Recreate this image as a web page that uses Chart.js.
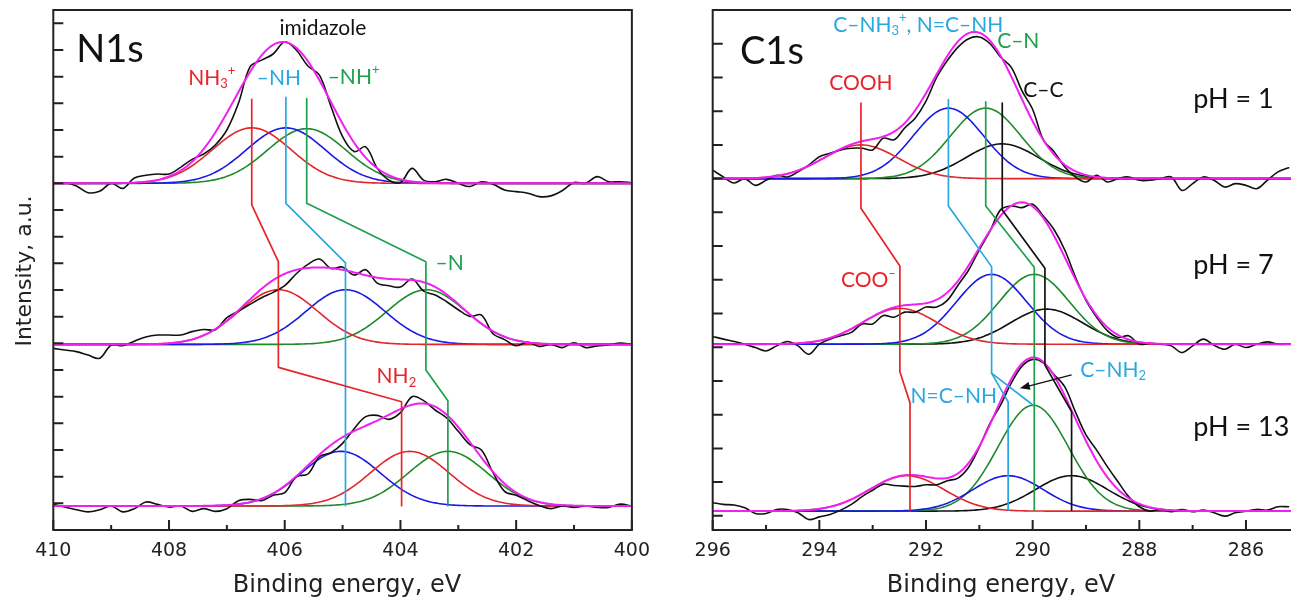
<!DOCTYPE html>
<html><head><meta charset="utf-8">
<script src="https://cdn.jsdelivr.net/npm/chart.js@4/dist/chart.umd.min.js"></script>
<style>
html,body{margin:0;padding:0;background:#fff;overflow:hidden;width:1291px;height:602px;position:relative;}
canvas{position:absolute;top:0;}
#c1{left:0;}
#c2{left:660px;}
</style></head><body>
<canvas id="c1" width="660" height="602"></canvas>
<canvas id="c2" width="660" height="602"></canvas>
<script>
// ---------------- DATA ----------------
// N1s: binding energy grid (eV) and measured intensity above each spectrum's baseline
const n1sEnergy = Array.from({length:51},(_,i)=>+(410 - i*0.2).toFixed(1));
const n1sPH1  = [0.0,0.02,-0.1,-0.35,-0.3,0.0,-0.19,0.2,0.3,0.35,0.35,0.6,0.9,1.1,1.44,2.0,3.0,4.37,4.62,4.85,5.31,5.0,4.4,4.06,2.88,1.75,1.19,1.37,0.56,0.12,0.03,0.56,0.12,0.06,0.15,0.0,-0.12,0.06,-0.03,-0.25,-0.31,-0.37,-0.5,-0.47,-0.27,0.03,0.0,0.25,0.06,0.06,0.02];
const n1sPH7  = [-0.15,-0.21,-0.27,-0.4,-0.52,-0.03,-0.05,0.12,0.28,0.35,0.35,0.35,0.48,0.56,0.55,1.0,1.25,1.5,1.75,1.95,2.2,2.65,3.0,3.2,2.85,2.9,2.6,2.8,2.3,2.2,2.15,2.45,2.0,1.85,1.6,1.3,1.05,1.1,0.4,0.18,-0.05,0.08,-0.08,0.0,-0.12,0.06,-0.12,-0.06,-0.02,0.05,0.0];
const n1sPH13 = [0.06,-0.04,-0.14,-0.22,-0.14,0.0,-0.22,-0.1,0.15,0.06,-0.04,0.0,-0.2,-0.1,-0.2,-0.1,0.2,0.25,0.2,0.4,0.5,1.1,1.2,1.85,2.0,2.35,2.9,3.35,3.4,3.25,3.5,4.1,3.95,3.6,3.3,2.8,2.3,2.1,1.25,0.55,0.4,0.2,0.02,-0.1,0.0,-0.05,0.0,-0.05,-0.05,0.07,0.0];
const n1sOffsets = [13.0, 6.96, 0.9];
// N1s fitted components (order: NH3+/NH2 red, -NH blue, -NH+/-N green)
const n1sCentersPH1  = [406.57, 405.98, 405.62];
const n1sHeightsPH1  = [2.08, 2.08, 2.05];
const n1sCentersPH7  = [406.11, 404.95, 403.55];
const n1sHeightsPH7  = [2.05, 2.05, 2.05];
const n1sCentersPH13 = [403.84, 405.03, 403.18];
const n1sHeightsPH13 = [2.05, 2.05, 2.05];
const n1sSigma = [0.68, 0.68, 0.68];
const n1sTicks = [410, 408, 406, 404, 402, 400];
const n1sMinorTicks = [409, 407, 405, 403, 401];
const n1sYTicks = [1,2,3,4,5,6,7,8,9,10,11,12,13,14,15,16,17,18,19];
// N1s guide lines (energy, intensity)
const n1sGuideRed   = [[406.57,16.15],[406.57,12.19],[406.11,10.06],[406.11,6.10],[403.98,4.81],[403.98,0.91]];
const n1sGuideBlue  = [[405.98,16.22],[405.98,12.25],[404.95,10.02],[404.95,0.91]];
const n1sGuideGreen = [[405.62,16.18],[405.62,12.25],[403.56,10.06],[403.56,6.0],[403.18,4.85],[403.18,0.91]];

// C1s
const c1sEnergy = Array.from({length:55},(_,i)=>+(296 - i*0.2).toFixed(1));
const c1sPH1  = [0.25,0.05,-0.13,0.0,-0.2,-0.05,0.1,0.05,0.2,0.4,0.65,0.75,0.85,0.9,0.9,0.85,1.2,1.15,1.5,1.8,2.3,3.0,3.5,3.9,4.15,4.2,4.0,3.6,3.3,2.6,2.05,1.15,0.8,0.35,0.05,-0.1,0.1,-0.1,0.0,0.05,-0.05,-0.05,0.0,0.05,-0.35,-0.15,0.05,-0.05,-0.25,-0.15,-0.2,-0.3,-0.05,0.2,0.32];
const c1sPH7  = [0.23,0.15,0.08,0.0,-0.1,-0.2,-0.05,0.08,-0.05,-0.3,0.0,0.15,0.25,0.35,0.6,0.6,0.85,0.8,0.95,0.95,1.1,1.1,1.3,1.75,2.2,2.8,3.35,3.99,4.1,4.05,4.15,3.8,3.4,2.8,2.0,1.3,0.8,0.4,0.2,0.25,0.0,0.03,0.0,-0.05,-0.25,-0.05,0.15,-0.03,-0.15,0.0,-0.1,0.0,0.07,0.0,0.0];
const c1sPH13 = [0.25,0.2,0.18,0.1,-0.07,-0.07,0.05,0.05,-0.05,-0.25,-0.17,-0.1,0.03,0.2,0.43,0.62,0.8,0.76,0.74,0.73,0.78,0.78,0.9,0.98,1.3,1.9,2.6,3.15,3.8,4.3,4.5,4.4,4.05,3.69,2.95,2.26,1.81,1.32,0.87,0.43,0.13,0.0,0.05,-0.02,0.05,-0.02,0.03,-0.05,-0.15,-0.05,0.0,0.05,0.03,0.13,0.13];
const c1sOffsets = [10.0, 5.09, 0.14];
// C1s fitted components (order: COOH/COO- red, C-NH3+/N=C-NH blue, C-N green, C-C black)
const c1sCentersPH1  = [293.22, 291.58, 290.88, 290.57];
const c1sHeightsPH1  = [1.0, 2.09, 2.09, 1.03];
const c1sCentersPH7  = [292.49, 290.77, 289.97, 289.74];
const c1sHeightsPH7  = [1.06, 2.07, 2.07, 1.04];
const c1sCentersPH13 = [292.36, 290.46, 289.99, 289.27];
const c1sHeightsPH13 = [1.05, 1.05, 3.14, 1.05];
const c1sSigma = [0.7, 0.66, 0.66, 0.68];
const c1sTicks = [296, 294, 292, 290, 288, 286];
const c1sMinorTicks = [295, 293, 291, 289, 287, 285];
const c1sYTicks = [0,1,2,3,4,5,6,7,8,9,10,11,12,13,14];
const c1sGuideRed   = [[293.22,12.24],[293.22,9.12],[292.49,7.41],[292.49,4.27],[292.30,3.35],[292.30,0.17]];
const c1sGuideBlue  = [[291.58,12.34],[291.58,9.19],[290.77,7.39],[290.77,4.23],[290.46,3.38],[290.46,0.17]];
const c1sGuideBlue2 = [[290.77,4.23],[289.99,3.28]];
const c1sGuideGreen = [[290.88,12.28],[290.88,9.19],[289.97,7.37],[289.97,0.17]];
const c1sGuideBlack = [[290.57,12.24],[290.57,9.07],[289.77,7.34],[289.77,4.47],[289.27,3.09],[289.27,0.17]];

// ---------------- STYLE ----------------
const RED='#E3262B', BLUE='#1A1AE6', GREEN='#1E8A2A', BLACK='#111111', MAGENTA='#F020F0';
const GRED='#E8242B', GBLUE='#29A8E0', GGREEN='#1FA04F';
const LBL='Lato, "Open Sans", sans-serif';
const AX='"DejaVu Sans", "Liberation Sans", sans-serif';

function gaussPts(lo, hi, offset, centers, heights, sigmas, idx) {
  const pts=[];
  for (let e=lo; e<=hi+1e-9; e+=0.04) {
    let y=offset;
    (idx===null ? centers.map((_,k)=>k) : [idx]).forEach(k=>{
      y += heights[k]*Math.exp(-((e-centers[k])**2)/(2*sigmas[k]*sigmas[k]));
    });
    pts.push({x:e, y});
  }
  return pts;
}

function buildDatasets(energy, spectra, offsets, centersList, heightsList, sigmas, compColors, lo, hi, guides) {
  const ds=[];
  guides.forEach(g=>ds.push({data:g.pts.map(p=>({x:p[0],y:p[1]})), borderColor:g.color, borderWidth:1.7, tension:0, order:0}));
  spectra.forEach((vals,k)=>{
    ds.push({data:gaussPts(lo,hi,offsets[k],centersList[k],heightsList[k],sigmas,null), borderColor:MAGENTA, borderWidth:2, tension:0, order:1});
    ds.push({data:energy.map((e,i)=>({x:e,y:offsets[k]+vals[i]})), borderColor:BLACK, borderWidth:1.6, tension:0.35, order:2});
    centersList[k].forEach((c,j)=>{
      ds.push({data:gaussPts(lo,hi,offsets[k],centersList[k],heightsList[k],sigmas,j), borderColor:compColors[j], borderWidth:1.6, tension:0, order:3});
    });
  });
  return ds;
}

function drawRich(ctx, parts, x, y, size, color, align) {
  const seg = parts.map(([t,k])=>{ const fs = k? size*0.62 : size; ctx.font = fs+'px '+LBL; return {t,k,fs,w:ctx.measureText(t).width}; });
  const total = seg.reduce((a,s)=>a+s.w,0);
  let cx = align==='center' ? x-total/2 : (align==='right' ? x-total : x);
  ctx.fillStyle=color; ctx.textBaseline='middle'; ctx.textAlign='left';
  seg.forEach(s=>{ ctx.font=s.fs+'px '+LBL; const dy = s.k==='sub' ? size*0.28 : (s.k==='sup' ? -size*0.32 : 0); ctx.fillText(s.t, cx, y+dy); cx+=s.w; });
}

function framePlugin(o) {
  return {
    id:'frame',
    afterDraw(chart) {
      const ctx=chart.ctx, a=chart.chartArea, x=chart.scales.x, y=chart.scales.y;
      ctx.save();
      ctx.strokeStyle='#222'; ctx.lineWidth=2; ctx.lineCap='butt';
      ctx.beginPath();
      o.major.forEach(v=>{const p=x.getPixelForValue(v); ctx.moveTo(p,a.bottom); ctx.lineTo(p,a.bottom-10);});
      o.minor.forEach(v=>{const p=x.getPixelForValue(v); ctx.moveTo(p,a.bottom); ctx.lineTo(p,a.bottom-5);});
      o.yTicks.forEach(v=>{const p=y.getPixelForValue(v); ctx.moveTo(a.left,p); ctx.lineTo(a.left+10,p);});
      ctx.stroke();
      ctx.strokeRect(a.left,a.top,a.right-a.left,a.bottom-a.top);
      // labels
      o.labels.forEach(l=>drawRich(ctx,l.parts,x.getPixelForValue(l.x),y.getPixelForValue(l.y),l.size,l.color,l.align||'center'));
      // arrow
      if (o.arrow) {
        const x1=x.getPixelForValue(o.arrow[0][0]), y1=y.getPixelForValue(o.arrow[0][1]);
        const x2=x.getPixelForValue(o.arrow[1][0]), y2=y.getPixelForValue(o.arrow[1][1]);
        ctx.strokeStyle='#111'; ctx.fillStyle='#111'; ctx.lineWidth=1.3;
        const ang=Math.atan2(y2-y1,x2-x1);
        ctx.beginPath(); ctx.moveTo(x1,y1); ctx.lineTo(x2-7*Math.cos(ang),y2-7*Math.sin(ang)); ctx.stroke();
        ctx.beginPath(); ctx.moveTo(x2,y2);
        ctx.lineTo(x2-10*Math.cos(ang)+4*Math.sin(ang), y2-10*Math.sin(ang)-4*Math.cos(ang));
        ctx.lineTo(x2-10*Math.cos(ang)-4*Math.sin(ang), y2-10*Math.sin(ang)+4*Math.cos(ang));
        ctx.closePath(); ctx.fill();
      }
      // axis titles
      ctx.fillStyle='#222'; ctx.textAlign='center'; ctx.textBaseline='middle';
      ctx.font='24px '+AX;
      ctx.fillText('Binding energy, eV', o.titleX, 586);
      if (o.yTitle) {
        ctx.save(); ctx.translate(25,271); ctx.rotate(-Math.PI/2);
        ctx.font='22px '+AX; ctx.fillText(o.yTitle,0,0); ctx.restore();
      }
      ctx.restore();
    }
  };
}

function makeChart(id, cfg) {
  new Chart(document.getElementById(id), {
    type:'line',
    data:{datasets:cfg.datasets},
    options:{
      responsive:false, animation:false, events:[],
      layout:{padding:{top:10,right:cfg.padRight,left:0,bottom:0}},
      plugins:{legend:{display:false}, tooltip:{enabled:false}},
      elements:{point:{radius:0}, line:{fill:false, borderJoinStyle:'round', borderCapStyle:'round'}},
      scales:{
        x:{type:'linear', reverse:true, min:cfg.xmin, max:cfg.xmax,
          afterBuildTicks:s=>{ s.ticks = cfg.xLabels.map(v=>({value:v})); },
          afterFit:s=>{ s.height=72; },
          grid:{display:false, drawTicks:false}, border:{display:false},
          ticks:{font:{family:AX,size:19}, color:'#222', padding:10, maxRotation:0, autoSkip:false, callback:v=>String(v)}},
        y:{type:'linear', min:cfg.ymin, max:cfg.ymax,
          afterFit:s=>{ s.width=cfg.yWidth; },
          grid:{display:false, drawTicks:false}, border:{display:false}, ticks:{display:false}}
      }
    },
    plugins:[framePlugin(cfg.frame)]
  });
}

function draw() {
  makeChart('c1', {
    xmin:400, xmax:410, ymin:0, ymax:19.5, yWidth:53.3, padRight:20, xLabels:n1sTicks,
    datasets: buildDatasets(n1sEnergy,[n1sPH1,n1sPH7,n1sPH13],n1sOffsets,
      [n1sCentersPH1,n1sCentersPH7,n1sCentersPH13],[n1sHeightsPH1,n1sHeightsPH7,n1sHeightsPH13],
      n1sSigma,[RED,BLUE,GREEN],400,410,
      [{pts:n1sGuideRed,color:GRED},{pts:n1sGuideBlue,color:GBLUE},{pts:n1sGuideGreen,color:GGREEN}]),
    frame:{major:n1sTicks, minor:n1sMinorTicks, yTicks:n1sYTicks, titleX:347, yTitle:'Intensity, a.u.',
      labels:[
        {parts:[['N1s']], x:409.02, y:18.0, size:38, color:'#111'},
        {parts:[['imidazole']], x:405.34, y:18.82, size:21, color:'#111'},
        {parts:[['NH'],['3','sub'],['+','sup']], x:407.26, y:16.95, size:21, color:GRED},
        {parts:[['\u2013NH']], x:406.10, y:16.95, size:21, color:GBLUE},
        {parts:[['\u2013NH'],['+','sup']], x:404.81, y:16.99, size:21, color:GGREEN},
        {parts:[['\u2013N']], x:403.15, y:10.0, size:21, color:GGREEN},
        {parts:[['NH'],['2','sub']], x:404.07, y:5.75, size:21, color:GRED}
      ]}
  });
  makeChart('c2', {
    xmin:285, xmax:296, ymin:-0.42, ymax:15, yWidth:52.7, padRight:20.7, xLabels:c1sTicks,
    datasets: buildDatasets(c1sEnergy,[c1sPH1,c1sPH7,c1sPH13],c1sOffsets,
      [c1sCentersPH1,c1sCentersPH7,c1sCentersPH13],[c1sHeightsPH1,c1sHeightsPH7,c1sHeightsPH13],
      c1sSigma,[RED,BLUE,GREEN,BLACK],285,296,
      [{pts:c1sGuideRed,color:GRED},{pts:c1sGuideBlue,color:GBLUE},{pts:c1sGuideBlue2,color:GBLUE},{pts:c1sGuideGreen,color:GGREEN},{pts:c1sGuideBlack,color:BLACK}]),
    frame:{major:c1sTicks, minor:c1sMinorTicks, yTicks:c1sYTicks, titleX:341, yTitle:null,
      arrow:[[289.27,4.18],[290.24,3.78]],
      labels:[
        {parts:[['C1s']], x:294.89, y:13.76, size:38, color:'#111'},
        {parts:[['C\u2013NH'],['3','sub'],['+','sup'],[', N=C\u2013NH']], x:293.74, y:14.56, size:21, color:GBLUE, align:'left'},
        {parts:[['C\u2013N']], x:290.27, y:14.07, size:21, color:GGREEN},
        {parts:[['C\u2013C']], x:289.80, y:12.63, size:21, color:'#111'},
        {parts:[['COOH']], x:293.22, y:12.83, size:21, color:GRED},
        {parts:[['pH = 1']], x:286.99, y:12.34, size:27, color:'#111', align:'left'},
        {parts:[['COO'],['\u2013','sup']], x:293.08, y:6.99, size:21, color:GRED},
        {parts:[['pH = 7']], x:286.99, y:7.44, size:27, color:'#111', align:'left'},
        {parts:[['N=C\u2013NH']], x:291.48, y:3.55, size:21, color:GBLUE},
        {parts:[['C\u2013NH'],['2','sub']], x:288.49, y:4.32, size:21, color:GBLUE},
        {parts:[['pH = 13']], x:286.99, y:2.64, size:27, color:'#111', align:'left'}
      ]}
  });
}
Promise.all([document.fonts.load('21px Lato'), document.fonts.load('18px "DejaVu Sans"')]).then(draw, draw);
</script>
</body></html>
